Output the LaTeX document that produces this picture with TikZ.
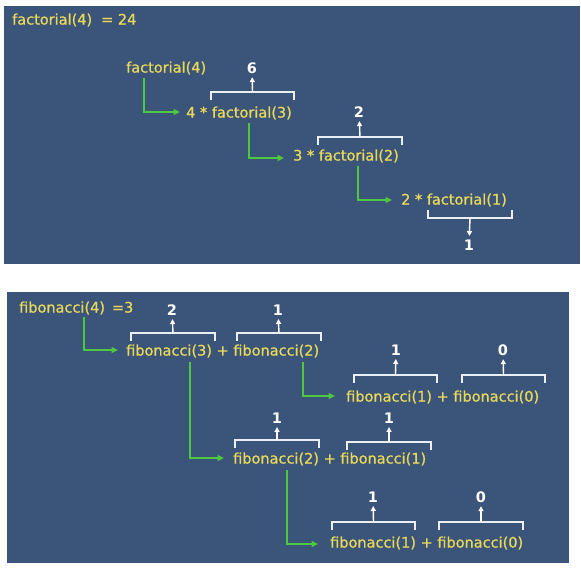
\documentclass[tikz,border=0pt]{standalone}
\usepackage{fontspec}
\setmainfont{DejaVu Sans}
\newfontfamily\lblfont[FakeBold=0.9]{DejaVu Sans}
\usetikzlibrary{arrows.meta}
\definecolor{bgblue}{RGB}{59,84,121}
\definecolor{txtyel}{RGB}{232,216,90}
\definecolor{arrgreen}{RGB}{78,200,62}
\definecolor{brkwhite}{RGB}{235,238,242}
\newcommand\bracketup[4]{%
  \draw[brk] (#1,#3+8) -- (#1,#3) -- (#2,#3) -- (#2,#3+8);
  \coordinate (#4) at ({(#1+#2)/2},#3);}
\newcommand\bracketdown[4]{%
  \draw[brk] (#1,#3-8) -- (#1,#3) -- (#2,#3) -- (#2,#3-8);
  \coordinate (#4) at ({(#1+#2)/2},#3);}
\begin{document}
\begin{tikzpicture}[x=1pt,y=-1pt,
  lbl/.style={text=txtyel, font=\lblfont\fontsize{14.5}{17}\selectfont, inner sep=0pt, anchor=west},
  val/.style={text=white, font=\fontsize{14.5}{17}\selectfont\bfseries, inner sep=0pt},
  call/.style={draw=arrgreen, line width=1.5pt, -{Triangle[length=6.5pt,width=6pt]}},
  brk/.style={draw=brkwhite, line width=1.4pt},
  ret/.style={draw=white, line width=1.4pt, -{Triangle[length=5pt,width=5pt]}, shorten >=3.5pt}]
\useasboundingbox (0,0) rectangle (581,572);
\fill[white] (0,0) rectangle (581,572);
% panels
\fill[bgblue] (4,6) rectangle (580,264);
\fill[bgblue] (7,292) rectangle (569,563);

% ---------------- factorial ----------------
\node[lbl] (ftitle) at (12,20) {factorial(4)\hspace{9pt}= 24};
\node[lbl] (f4) at (126,68) {factorial(4)};
\node[lbl] (e3) at (186,113) {4 * factorial(3)};
\node[lbl] (e2) at (293,156) {3 * factorial(2)};
\node[lbl] (e1) at (401,200) {2 * factorial(1)};

\coordinate (s1) at (144,78);  \coordinate (t1) at (180,112);
\coordinate (s2) at (249,123); \coordinate (t2) at (284,158);
\coordinate (s3) at (358,166); \coordinate (t3) at (392,200);
\draw[call] (s1) |- (t1);
\draw[call] (s2) |- (t2);
\draw[call] (s3) |- (t3);

\bracketup{211}{294}{92}{b6}
\node[val] (v6) at (252,68) {6};
\draw[ret] (b6) -- (v6);
\bracketup{318}{402}{137}{b2}
\node[val] (v2) at (359,112) {2};
\draw[ret] (b2) -- (v2);
\bracketdown{428}{512}{218}{b1}
\node[val] (v1) at (469,245) {1};
\draw[ret] (b1) -- (v1);

% ---------------- fibonacci ----------------
\node[lbl] (btitle) at (19,308) {fibonacci(4)\hspace{7pt}=3};
\node[lbl] (r1) at (126,351) {fibonacci(3) + fibonacci(2)};
\node[lbl] (r2) at (346,397) {fibonacci(1) + fibonacci(0)};
\node[lbl] (r3) at (233,459) {fibonacci(2) + fibonacci(1)};
\node[lbl] (r4) at (330,543) {fibonacci(1) + fibonacci(0)};

\coordinate (g1s) at (84,317);  \coordinate (g1t) at (118,350);
\coordinate (g2s) at (190,362); \coordinate (g2t) at (224,458);
\coordinate (g3s) at (303,362); \coordinate (g3t) at (335,396);
\coordinate (g4s) at (287,470); \coordinate (g4t) at (318,544);
\draw[call] (g1s) |- (g1t);
\draw[call] (g2s) |- (g2t);
\draw[call] (g3s) |- (g3t);
\draw[call] (g4s) |- (g4t);

% row 1
\bracketup{131}{215}{333}{c1a}
\node[val] (w1a) at (172,310) {2};
\draw[ret] (c1a) -- (w1a);
\bracketup{237}{321}{333}{c1b}
\node[val] (w1b) at (278,310) {1};
\draw[ret] (c1b) -- (w1b);
% row 2
\bracketup{354}{437}{375}{c2a}
\node[val] (w2a) at (396,350) {1};
\draw[ret] (c2a) -- (w2a);
\bracketup{462}{545}{375}{c2b}
\node[val] (w2b) at (503,350) {0};
\draw[ret] (c2b) -- (w2b);
% row 3
\bracketup{235}{319}{440}{c3a}
\node[val] (w3a) at (277,418) {1};
\draw[ret] (c3a) -- (w3a);
\bracketup{347}{431}{442}{c3b}
\node[val] (w3b) at (389,418) {1};
\draw[ret] (c3b) -- (w3b);
% row 4
\bracketup{332}{415}{522}{c4a}
\node[val] (w4a) at (373,497) {1};
\draw[ret] (c4a) -- (w4a);
\bracketup{439}{523}{522}{c4b}
\node[val] (w4b) at (481,497) {0};
\draw[ret] (c4b) -- (w4b);
\end{tikzpicture}
\end{document}
